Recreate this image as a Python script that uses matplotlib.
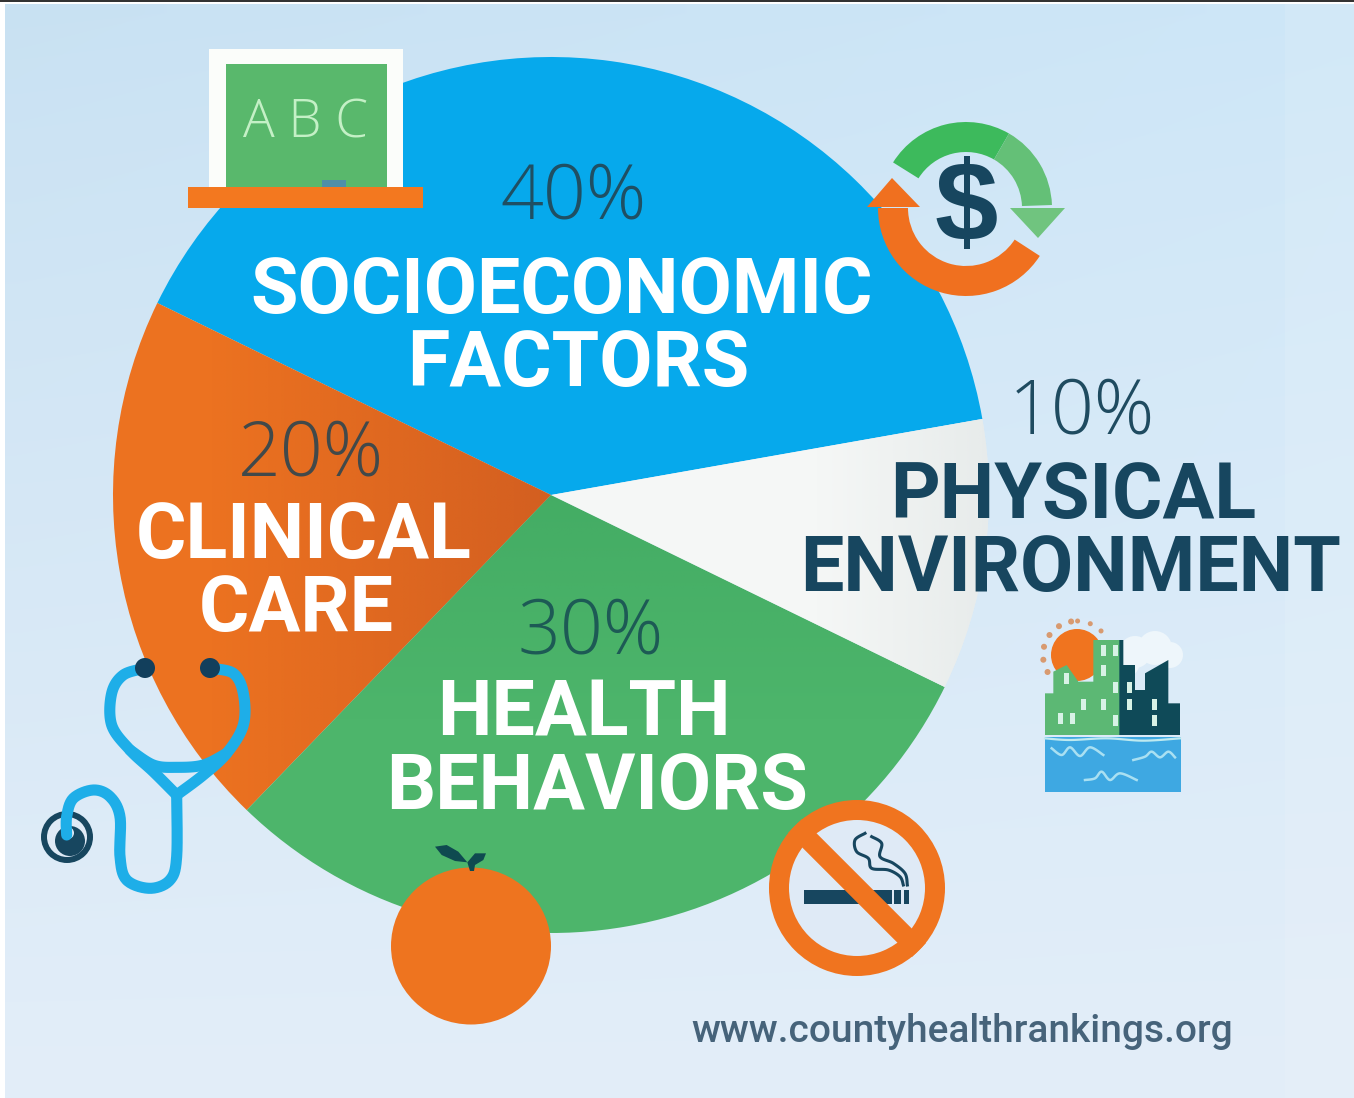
import numpy as np
import matplotlib
matplotlib.use("Agg")
import matplotlib.pyplot as plt
from matplotlib.patches import Circle, Ellipse, Polygon, Rectangle, Wedge

W, H = 1354, 1098

# pie data, counter-clockwise from the blue slice
categories = ["SOCIOECONOMIC\nFACTORS", "CLINICAL\nCARE", "HEALTH\nBEHAVIORS", "PHYSICAL\nENVIRONMENT"]
shares = [40, 20, 30, 10]
slice_colors = ["#06a9ec", "#ec7220", "#4db56b", "#f5f7f6"]

BOLD = ["Roboto", "DejaVu Sans"]
THIN = ["Open Sans", "DejaVu Sans"]
NAVY = "#17465f"
ORANGE = "#f0741f"
CYAN = "#1eaee8"


def spline(points, n=16):
    # catmull-rom through hand-placed icon points
    p = np.array(points, dtype=float)
    p = np.vstack([p[0], p, p[-1]])
    out = []
    for i in range(1, len(p) - 2):
        for t in np.linspace(0, 1, n, endpoint=False):
            out.append(0.5 * (2 * p[i] + (p[i + 1] - p[i - 1]) * t
                              + (2 * p[i - 1] - 5 * p[i] + 4 * p[i + 1] - p[i + 2]) * t ** 2
                              + (3 * p[i] - p[i - 1] - 3 * p[i + 1] + p[i + 2]) * t ** 3))
    out.append(p[-2])
    return np.array(out)


def zoomed(points, x0, y0):
    return [(x0 + x / 3, y0 + y / 3) for x, y in points]


def arc(ax, cx, cy, r, width, a1, a2, color, z=5):
    # angles as seen on screen, y axis is flipped
    ax.add_patch(Wedge((cx, cy), r, -a2, -a1, width=width, facecolor=color, edgecolor="none", zorder=z))


def draw_background(ax):
    yy, xx = np.mgrid[0:1:60j, 0:1:60j]
    top = np.array([0.790, 0.888, 0.955])
    bottom = np.array([0.890, 0.933, 0.976])
    img = top + (bottom - top) * (yy[..., None] ** 0.9)
    img = img + 0.02 * (xx[..., None] - 0.2) * (1 - yy[..., None])
    ax.imshow(np.clip(img, 0, 1), extent=(5, W, H, 4), aspect="auto", zorder=0, interpolation="bilinear")
    ax.add_patch(Rectangle((1285, 4), 69, H, facecolor="white", alpha=0.10, edgecolor="none", zorder=0.5))
    ax.add_patch(Rectangle((0, 0), W, 1.6, facecolor="#333333", edgecolor="none", zorder=9))


def shade(ax, wedge, color, direction, strength):
    # soft shading inside a slice, clipped to the wedge
    yy, xx = np.mgrid[0:1:80j, 0:1:80j]
    t = np.clip(direction(xx, yy), 0, 1) * strength
    rgba = np.zeros(t.shape + (4,))
    rgba[..., :3] = matplotlib.colors.to_rgb(color)
    rgba[..., 3] = t
    im = ax.imshow(rgba, extent=(100, 1000, 950, 50), aspect="auto", zorder=2, interpolation="bilinear")
    im.set_clip_path(wedge)


def draw_board(ax):
    ax.add_patch(Rectangle((209, 49), 194, 140, facecolor="#fbfdfa", edgecolor="none", zorder=5))
    ax.add_patch(Rectangle((226, 64), 161, 123, facecolor="#59b86c", edgecolor="none", zorder=5.1))
    ax.add_patch(Rectangle((322, 180), 24, 7, facecolor="#4f8fa8", edgecolor="none", zorder=5.2))
    ax.add_patch(Rectangle((188, 187), 235, 21, facecolor="#f3781f", edgecolor="none", zorder=5.3))
    ax.text(306, 124, "A B C", color="#c4f0c6", fontsize=38, family=THIN, weight="light",
            ha="center", va="center", zorder=5.4)


def draw_dollar(ax):
    cx, cy = 966, 208
    arc(ax, cx, cy, 86, 30, 60, 148, "#3dba5c")
    arc(ax, cx, cy, 86, 30, 2, 60, "#64c077")
    ax.add_patch(Polygon([(1010, 208), (1065, 208), (1038, 238)], facecolor="#70c47f", edgecolor="none", zorder=5))
    arc(ax, cx, cy, 88, 30, 180, 327, "#f0701f")
    ax.add_patch(Polygon([(867, 207), (892, 178), (920, 207)], facecolor="#f0701f", edgecolor="none", zorder=5))
    ax.text(966, 212, "$", color=NAVY, fontsize=82, family=["Liberation Sans", "DejaVu Sans"], weight="bold",
            ha="center", va="center", zorder=5.2)


def draw_city(ax):
    x0, y0 = 1020, 610
    for a in np.arange(100, 230, 22):
        ax.add_patch(Circle((1077 + 34 * np.cos(np.radians(a)), 655 - 34 * np.sin(np.radians(a))), 3,
                            facecolor="#d89a70", edgecolor="none", zorder=5))
    for a in np.arange(45, 100, 22):
        ax.add_patch(Circle((1077 + 34 * np.cos(np.radians(a)), 655 - 34 * np.sin(np.radians(a))), 2.5,
                            facecolor="#d89a70", edgecolor="none", zorder=5))
    ax.add_patch(Circle((1077, 655), 26, facecolor=ORANGE, edgecolor="none", zorder=5.1))
    for c, r in [((1135, 652), 16), ((1155, 648), 17), ((1170, 655), 13), ((1128, 665), 11)]:
        ax.add_patch(Circle(c, r, facecolor="#eef6fb", edgecolor="none", zorder=5.1))
    green = [(75, 375), (75, 250), (100, 250), (100, 185), (140, 165), (175, 215), (220, 215),
             (220, 90), (300, 90), (300, 375)]
    dark = [(298, 375), (298, 90), (310, 90), (310, 165), (345, 165), (345, 240), (375, 240),
            (375, 190), (445, 150), (445, 280), (480, 280), (480, 375)]
    ax.add_patch(Polygon(zoomed(green, x0, y0), facecolor="#5cb874", edgecolor="none", zorder=5.2))
    ax.add_patch(Polygon(zoomed(dark, x0, y0), facecolor="#0f4a58", edgecolor="none", zorder=5.2))
    windows = [(140, 205), (250, 120), (285, 120), (250, 180), (285, 232), (190, 282), (250, 282),
               (122, 325), (157, 325), (285, 332), (327, 232), (327, 282), (404, 282), (404, 332)]
    for wx, wy in zoomed(windows, x0, y0):
        ax.add_patch(Rectangle((wx - 2.5, wy - 5.5), 5, 11, facecolor="#d8f2e6", edgecolor="none", zorder=5.3))
    ax.add_patch(Rectangle((1045, 737), 136, 55, facecolor="#3ea8e2", edgecolor="none", zorder=5.2))
    surface = zoomed([(75, 385), (150, 390), (260, 385), (370, 392), (480, 385)], x0, y0)
    line = spline(surface)
    ax.plot(line[:, 0], line[:, 1], color="#bfeaf0", lw=1.6, zorder=5.3)
    for wave in ([(95, 415), (125, 435), (150, 412), (180, 438), (210, 412), (250, 435)],
                 [(340, 450), (375, 440), (395, 425), (420, 442), (445, 425), (465, 442)],
                 [(195, 510), (225, 505), (245, 485), (270, 510), (300, 490), (350, 510)]):
        line = spline(zoomed(wave, x0, y0))
        ax.plot(line[:, 0], line[:, 1], color="#a9e0f2", lw=1.8, zorder=5.3)


def draw_stethoscope(ax):
    x0, y0 = 30, 650
    ax.add_patch(Circle((67, 837), 26, facecolor=NAVY, edgecolor="none", zorder=6))
    ax.add_patch(Circle((67, 837), 20, facecolor="#dfeaf6", edgecolor="none", zorder=6.1))
    ax.add_patch(Circle((70, 841), 15, facecolor=NAVY, edgecolor="none", zorder=6.2))
    ax.add_patch(Circle((68, 833), 6, facecolor="#dfeaf6", edgecolor="none", zorder=6.3))
    tubes = [
        [(345, 55), (280, 75), (245, 130), (245, 225), (300, 300), (370, 365), (440, 435)],
        [(540, 55), (610, 70), (640, 130), (640, 225), (590, 310), (520, 375), (440, 435)],
        [(300, 300), (370, 345), (440, 352), (520, 345), (590, 310)],
        [(440, 435), (440, 620), (420, 690), (360, 715), (290, 690), (270, 620), (270, 500),
         (240, 440), (190, 420), (130, 445), (110, 500), (110, 555)],
    ]
    for pts in tubes:
        line = spline(zoomed(pts, x0, y0))
        ax.plot(line[:, 0], line[:, 1], color=CYAN, lw=8, solid_capstyle="round", zorder=6.4)
    for c in [(145, 668), (210, 668)]:
        ax.add_patch(Circle(c, 10, facecolor="#123f5c", edgecolor="none", zorder=6.5))


def draw_apple(ax):
    ax.add_patch(Ellipse((471, 946), 160, 157, facecolor="#ee741f", edgecolor="none", zorder=6))
    leaf = [(165, 35), (200, 30), (235, 50), (262, 82), (225, 78), (185, 60)]
    ax.add_patch(Polygon(zoomed(leaf, 380, 835), facecolor="#0f4a50", edgecolor="none", zorder=6.1))
    leaf2 = [(262, 82), (285, 55), (318, 55), (310, 75), (285, 90), (282, 108), (270, 108)]
    ax.add_patch(Polygon(zoomed(leaf2, 380, 835), facecolor="#0f4a50", edgecolor="none", zorder=6.1))


def draw_no_smoking(ax):
    x0, y0 = 760, 795
    cx, cy = 857, 888
    ax.add_patch(Circle((cx, cy), 78, facecolor="#dfeaf6", edgecolor="none", zorder=6))
    ax.add_patch(Rectangle((804, 890), 88, 14, facecolor=NAVY, edgecolor="none", zorder=6.1))
    ax.add_patch(Rectangle((894, 890), 7, 14, facecolor=NAVY, edgecolor="none", zorder=6.1))
    ax.add_patch(Rectangle((904, 890), 5, 14, facecolor=NAVY, edgecolor="none", zorder=6.1))
    smoke = [
        [(315, 115), (285, 135), (290, 170), (325, 190), (335, 220), (385, 225), (420, 245), (430, 270)],
        [(335, 125), (365, 145), (360, 185), (400, 205), (435, 235), (442, 270)],
    ]
    for pts in smoke:
        line = spline(zoomed(pts, x0, y0))
        ax.plot(line[:, 0], line[:, 1], color=NAVY, lw=2.2, zorder=6.1)
    ax.plot([cx - 62, cx + 62], [cy - 62, cy + 62], color=ORANGE, lw=14.5, solid_capstyle="butt", zorder=6.3)
    ax.add_patch(Wedge((cx, cy), 88, 0, 360, width=20, facecolor=ORANGE, edgecolor="none", zorder=6.4))


fig = plt.figure(figsize=(W / 100, H / 100), dpi=100, facecolor="white")
ax = fig.add_axes([0, 0, 1, 1])

wedges, _ = ax.pie(shares, colors=slice_colors, startangle=-10, counterclock=False,
                   center=(551, 495), radius=438, wedgeprops={"linewidth": 0, "zorder": 1})
ax.set_aspect("auto")
draw_background(ax)
ax.set_xlim(0, W)
ax.set_ylim(H, 0)
ax.axis("off")

# shading that the flat slices miss
shade(ax, wedges[1], "#b84a20", lambda x, y: (x - 0.12) * 1.8, 0.7)
shade(ax, wedges[2], "#2f9a55", lambda x, y: 1.2 - y * 1.6, 0.75)
shade(ax, wedges[3], "#c9d2d2", lambda x, y: (x - 0.8) * 4, 0.4)

draw_board(ax)
draw_dollar(ax)
draw_city(ax)
draw_stethoscope(ax)
draw_apple(ax)
draw_no_smoking(ax)

# labels
pct_pos = [(574, 195), (311, 452), (591, 630), (1082, 410)]
pct_colors = ["#1f4f63", "#41494a", "#1d5a55", "#1f4b60"]
name_pos = [[(562, 287), (578, 360)], [(304, 532), (296, 605)], [(584, 710), (597, 783)], [(1073, 492), (1071, 565)]]
name_colors = ["white", "white", "white", NAVY]

for cat, share, pos, col, npos, ncol in zip(categories, shares, pct_pos, pct_colors, name_pos, name_colors):
    ax.text(pos[0], pos[1] + 4, f"{share}%", color=col, fontsize=54, family=THIN, weight="light",
            ha="center", va="center", zorder=8)
    for line, (x, y) in zip(cat.split("\n"), npos):
        ax.text(x, y + 5, line, color=ncol, fontsize=55.5, family=BOLD, weight="bold",
                ha="center", va="center", zorder=8)

ax.text(962, 1031, "www.countyhealthrankings.org", color="#46637a", fontsize=28, family=["Roboto", "DejaVu Sans"],
        weight="medium", ha="center", va="center", zorder=8)

fig.savefig("out.png", dpi=100)
plt.close(fig)
